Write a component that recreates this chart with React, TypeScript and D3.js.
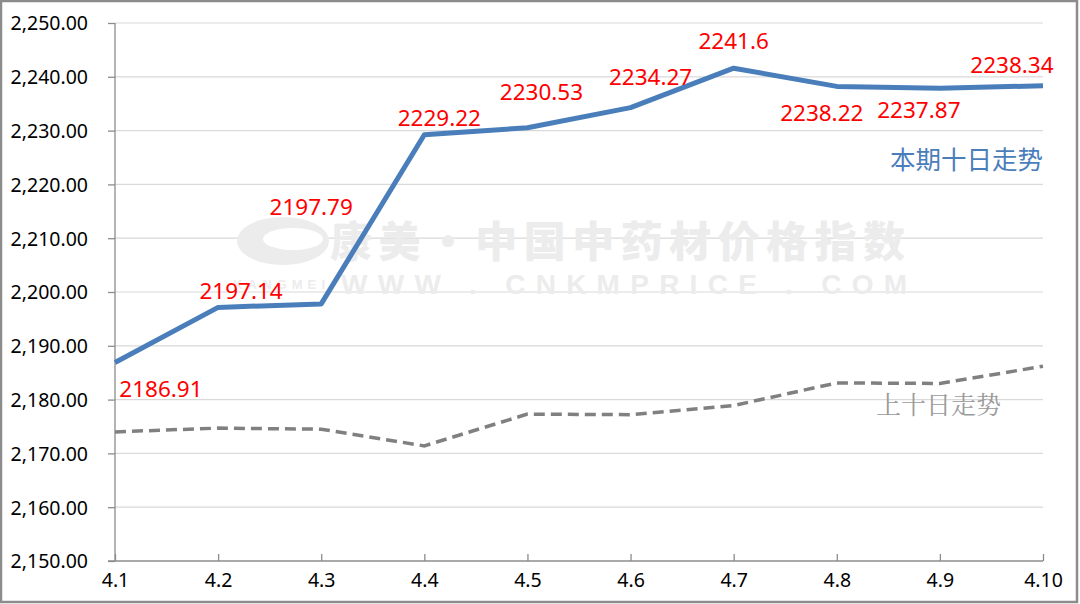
import { useEffect, useRef } from 'react';
import * as d3 from 'd3';

const days = ['4.1', '4.2', '4.3', '4.4', '4.5', '4.6', '4.7', '4.8', '4.9', '4.10'];
const current = [2186.91, 2197.14, 2197.79, 2229.22, 2230.53, 2234.27, 2241.6, 2238.22, 2237.87, 2238.34];
const previous = [2174.0, 2174.7, 2174.5, 2171.4, 2177.3, 2177.2, 2178.9, 2183.1, 2183.0, 2186.2];
const yTicks = [2150, 2160, 2170, 2180, 2190, 2200, 2210, 2220, 2230, 2240, 2250];
// label placement relative to each point (dx, dy), as Excel positioned them
const labelOffsets: [number, number][] = [
  [46, 35], [23, -8], [-10, -89], [15, -9], [14, -28], [20, -23], [0, -19], [-15, 35], [-21, 30], [-31, -13],
];
const currentName = '本期十日走势';
const previousName = '上十日走势';

export default function App() {
  const ref = useRef<SVGSVGElement>(null);

  useEffect(() => {
    if (!ref.current) return;
    const svg = d3.select(ref.current);
    svg.selectAll('*').remove();

    const width = 1080;
    const height = 604;
    const margin = { top: 23, right: 37, bottom: 43, left: 115 };
    const innerW = width - margin.left - margin.right;
    const innerH = height - margin.top - margin.bottom;
    const font = "'Noto Sans', sans-serif";

    svg.append('rect').attr('width', width).attr('height', height).attr('fill', '#fff');

    const g = svg.append('g').attr('transform', `translate(${margin.left},${margin.top})`);

    const x = d3.scalePoint().domain(days).range([0, innerW]);
    const y = d3.scaleLinear().domain([2150, 2250]).range([innerH, 0]);

    // gridlines
    g.append('g')
      .selectAll('line')
      .data(yTicks.slice(1))
      .join('line')
      .attr('x1', 0)
      .attr('x2', innerW)
      .attr('y1', d => y(d))
      .attr('y2', d => y(d))
      .style('stroke', '#d9d9d9')
      .style('stroke-width', 1.2);

    // watermark
    const wm = g.append('g').attr('fill', '#ececec');
    wm.append('text')
      .attr('x', 215)
      .attr('y', 234)
      .style('font-family', "'Noto Sans CJK SC', sans-serif")
      .style('font-weight', 900)
      .style('font-size', '42px')
      .attr('textLength', 575)
      .text('康美·中国中药材价格指数');
    wm.append('text')
      .attr('x', 226)
      .attr('y', 271)
      .style('font-family', "'Liberation Sans', sans-serif")
      .style('font-weight', 700)
      .style('font-size', '28px')
      .attr('textLength', 566)
      .text('WWW . CNKMPRICE . COM');
    wm.append('text')
      .attr('x', 118)
      .attr('y', 266)
      .style('font-family', "'Liberation Sans', sans-serif")
      .style('font-weight', 700)
      .style('font-size', '13px')
      .attr('textLength', 92)
      .text('KANGMEI');
    wm.append('ellipse').attr('cx', 168).attr('cy', 218).attr('rx', 46).attr('ry', 24);
    wm.append('ellipse').attr('cx', 178).attr('cy', 216).attr('rx', 30).attr('ry', 11).attr('fill', '#fff');

    // axes
    const yAxis = g.append('g')
      .call(d3.axisLeft(y).tickValues(yTicks).tickSize(7).tickFormat(d3.format(',.2f')));
    yAxis.selectAll('line').style('stroke', '#8c8c8c').style('stroke-width', 1.3);
    yAxis.select('.domain').style('stroke', '#8c8c8c').style('stroke-width', 1.3).attr('d', `M0,0V${innerH}`);
    yAxis.selectAll('text')
      .attr('x', -27)
      .attr('dy', '0.35em')
      .style('font-family', font)
      .style('font-size', '19.5px')
      .style('fill', '#000');

    const xAxis = g.append('g')
      .attr('transform', `translate(0,${innerH})`)
      .call(d3.axisBottom(x).tickSizeInner(-7).tickSizeOuter(0));
    xAxis.selectAll('line').style('stroke', '#8c8c8c').style('stroke-width', 1.3);
    xAxis.select('.domain').style('stroke', '#8c8c8c').style('stroke-width', 1.3).attr('d', `M-7,0H${innerW}`);
    xAxis.selectAll('text')
      .attr('y', 12)
      .attr('dy', '0.71em')
      .style('font-family', font)
      .style('font-size', '19.5px')
      .style('fill', '#000');

    const line = d3.line<number>().x((_, i) => x(days[i])!).y(d => y(d));

    g.append('path')
      .datum(previous)
      .attr('d', line)
      .attr('fill', 'none')
      .style('stroke', '#808080')
      .style('stroke-width', 3.5)
      .style('stroke-dasharray', '11,6');

    g.append('path')
      .datum(current)
      .attr('d', line)
      .attr('fill', 'none')
      .style('stroke', '#4a7ebb')
      .style('stroke-width', 5)
      .style('stroke-linejoin', 'round');

    g.append('g')
      .selectAll('text')
      .data(current)
      .join('text')
      .attr('x', (_, i) => x(days[i])! + labelOffsets[i][0])
      .attr('y', (d, i) => y(d) + labelOffsets[i][1])
      .attr('text-anchor', 'middle')
      .style('font-family', font)
      .style('font-size', '22.5px')
      .style('fill', '#ff0000')
      .text(d => String(d));

    g.append('text')
      .attr('x', innerW)
      .attr('y', 146)
      .attr('text-anchor', 'end')
      .style('font-family', "'Noto Sans CJK SC', sans-serif")
      .style('font-size', '25.5px')
      .style('fill', '#4a7ebb')
      .text(currentName);

    g.append('text')
      .attr('x', 761)
      .attr('y', 391)
      .style('font-family', "'Noto Serif CJK SC', 'Noto Sans CJK SC', serif")
      .style('font-size', '25px')
      .style('fill', '#9a9a9a')
      .text(previousName);

    // outer frame
    svg.append('rect')
      .attr('x', 1)
      .attr('y', 1)
      .attr('width', width - 4)
      .attr('height', height - 3)
      .attr('fill', 'none')
      .style('stroke', '#8c8c8c')
      .style('stroke-width', 2.5);
  }, []);

  return (
    <svg
      ref={ref}
      width={1080}
      height={604}
      style={{ position: 'absolute', left: 0, top: 0, display: 'block' }}
    />
  );
}
